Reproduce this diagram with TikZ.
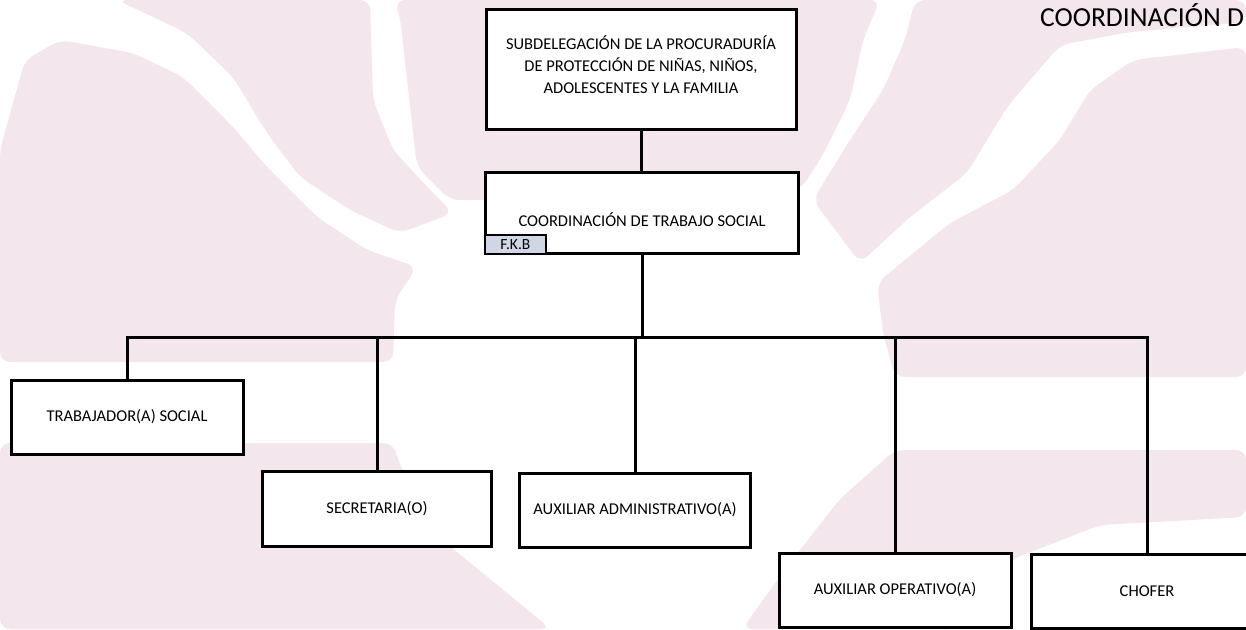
\documentclass[tikz,border=0pt]{standalone}
\usepackage{fontspec}
\setmainfont{Carlito}
\usetikzlibrary{positioning, calc}

\begin{document}
\begin{tikzpicture}[x=1pt, y=-1pt,
		unitbox/.style={draw=black, line width=3pt, fill=white, inner sep=0pt, align=center, font=\fontsize{16.5}{22}\selectfont, minimum width=232pt, minimum height=74pt},
		tagbox/.style={draw=black, line width=1.8pt, fill=tagblue, inner sep=0pt, minimum width=61pt, minimum height=19pt, font=\fontsize{15.5}{18}\selectfont},
		link/.style={line width=3pt},
		pinkzone/.style={fill=bgpink, rounded corners=10pt}
		]
		
		% Define colors
		\definecolor{bgpink}{RGB}{243,230,236}
		\definecolor{tagblue}{RGB}{208,214,230}
		
		% 1. Watermark background
		\useasboundingbox (0,0) rectangle (1246,629);
		\fill[white] (0,0) rectangle (1246,629);
		\fill[pinkzone] (0,150) -- (25,60) -- (60,40) -- (133,53) -- (183,77) -- (233,127) -- (267,167) -- (317,217) -- (367,250) -- (417,267) -- (395,300) -- (393,362) -- (0,362) -- cycle;
		\fill[pinkzone] (117,0) -- (187,33) -- (233,77) -- (267,133) -- (300,177) -- (350,210) -- (400,233) -- (453,213) -- (433,193) -- (393,150) -- (373,100) -- (370,0) -- cycle;
		\fill[pinkzone] (395,0) -- (880,0) -- (863,40) -- (850,100) -- (820,160) -- (800,190) -- (485,200) -- (450,200) -- (417,167) -- (400,17) -- cycle;
		\fill[pinkzone] (915,0) -- (1246,0) -- (1246,22) -- (1130,32) -- (1060,45) -- (1007,107) -- (967,173) -- (910,217) -- (860,263) -- (813,200) -- (850,140) -- (883,90) -- (905,40) -- cycle;
		\fill[pinkzone] (1246,47) -- (1133,60) -- (1090,90) -- (1060,140) -- (1013,190) -- (950,223) -- (877,283) -- (883,333) -- (895,377) -- (1246,377) -- cycle;
		\fill[pinkzone] (0,443) -- (393,443) -- (398,460) -- (430,530) -- (551,629) -- (0,629) -- cycle;
		\fill[pinkzone] (895,450) -- (1246,450) -- (1246,517) -- (1100,525) -- (1010,560) -- (960,629) -- (742,629) -- (787,567) -- (839,500) -- cycle;
		
		% 2. Page heading (cut at the edge)
		\node[anchor=base west, inner sep=0pt, font=\fontsize{27.5}{30}\selectfont] (heading) at (1040,27) {COORDINACIÓN D};
		
		% 3. Upper levels
		\node[unitbox, minimum width=310pt, minimum height=120pt, text depth=8pt] (subdel) at (641,69)
		{SUBDELEGACIÓN DE LA PROCURADURÍA\\DE PROTECCIÓN DE NIÑAS, NIÑOS,\\ADOLESCENTES Y LA FAMILIA};
		\node[unitbox, minimum width=313pt, minimum height=81pt, text height=26pt, text depth=0pt] (coord) at (642,213) {COORDINACIÓN DE TRABAJO SOCIAL};
		\node[tagbox, anchor=south west] (fkb) at (coord.south west) {F.K.B};
		
		% 4. Staff units
		\node[unitbox] (trab) at (127,417) {TRABAJADOR(A) SOCIAL};
		\node[unitbox, minimum width=229pt, minimum height=75pt] (secr) at (377,509) {SECRETARIA(O)};
		\node[unitbox, minimum width=231pt] (admn) at (635,510) {AUXILIAR ADMINISTRATIVO(A)};
		\node[unitbox] (oper) at (895,590) {AUXILIAR OPERATIVO(A)};
		\node[unitbox] (chof) at (1147,591) {CHOFER};
		
		% 5. Connectors
		\draw[link] (subdel.south) -- (subdel.south |- coord.north);
		\draw[link] (coord.south) -- ++(0,82) coordinate (hub);
		\foreach \unit in {trab,secr,admn,oper,chof} {
			\draw[link] (hub) -| (\unit.north);
		}
		
\end{tikzpicture}
\end{document}
